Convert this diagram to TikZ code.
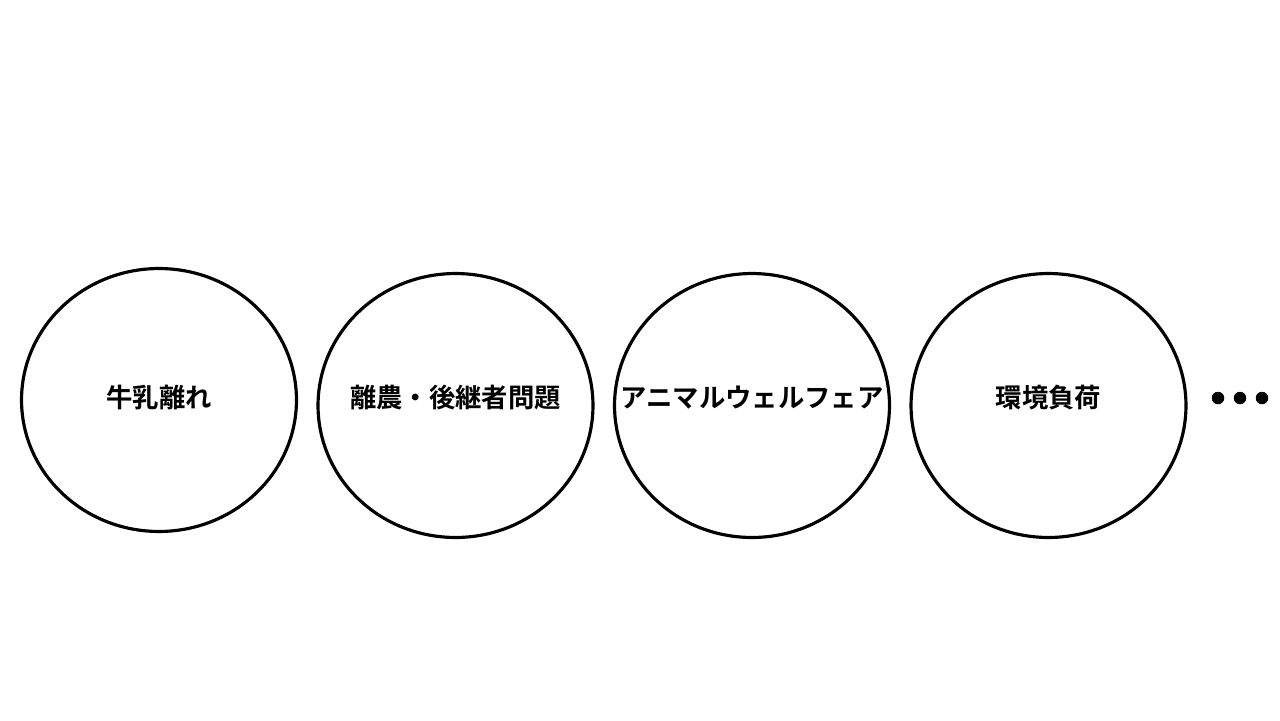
\documentclass[tikz,border=0pt]{standalone}
\usepackage{fontspec}
\newfontfamily\jp{Noto Sans CJK JP}[BoldFont={Noto Sans CJK JP Bold}]
\usetikzlibrary{shapes.geometric}

\tikzset{
  topic/.style={draw, ellipse, line width=1.8pt, inner sep=0pt,
    minimum width=5.5cm, minimum height=5.28cm},
  lbl/.style={font=\jp\bfseries\fontsize{15pt}{18pt}\selectfont, inner sep=0pt},
  dot/.style={circle, fill, inner sep=0pt, minimum size=0.25cm}
}

\begin{document}
\begin{tikzpicture}[x=0.02cm, y=-0.02cm]
  \useasboundingbox (0,0) rectangle (1280,720);
  \node[topic, minimum height=5.26cm] (e1) at (159,400) {};
  \node[topic] (e2) at (455.5,405.5) {};
  \node[topic] (e3) at (752,405.5) {};
  \node[topic] (e4) at (1048.5,405.5) {};
  \node[lbl] (t1) at (159,398) {牛乳離れ};
  \node[lbl] (t2) at (455.5,398) {離農・後継者問題};
  \node[lbl] (t3) at (752,398) {アニマルウェルフェア};
  \node[lbl] (t4) at (1048.5,398) {環境負荷};
  \node[dot] (d1) at (1218,398) {};
  \node[dot] (d2) at (1240,398) {};
  \node[dot] (d3) at (1262,398) {};
\end{tikzpicture}
\end{document}
